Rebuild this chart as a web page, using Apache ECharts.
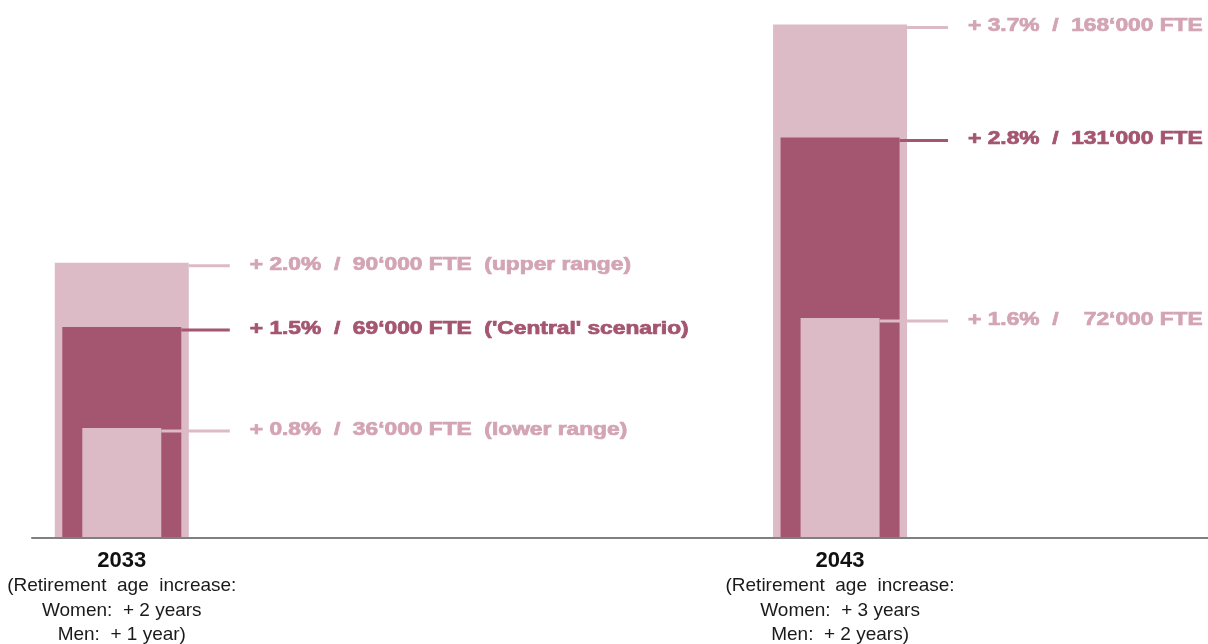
<!DOCTYPE html>
<html>
<head>
<meta charset="utf-8">
<title>Additional labour supply from higher retirement age</title>
<script src="https://cdn.jsdelivr.net/npm/echarts@6/dist/echarts.min.js"></script>
<style>
  html, body { margin: 0; padding: 0; background: #ffffff; }
  #chart { width: 1208px; height: 644px; }
</style>
</head>
<body>
<div id="chart"></div>
<script>
// Category slots along the baseline; the two horizons sit in slots 0 and 4.
const categories = ['2033', '', '', '', '2043', '', ''];
const years = ['2033', '2043'];
const yearSlots = [0, 4];

// Additional full-time equivalents per scenario
const upperFte = [90000, 168000];
const centralFte = [69000, 131000];
const lowerFte = [36000, 72000];

// Same effect as a share of the labour force (%)
const upperPct = ['2.0', '3.7'];
const centralPct = ['1.5', '2.8'];
const lowerPct = ['0.8', '1.6'];

// Scenario notes (only written next to the first horizon)
const upperNote = ['(upper range)', ''];
const centralNote = ["('Central' scenario)", ''];
const lowerNote = ['(lower range)', ''];

// Retirement age increase in years
const womenYears = [2, 3];
const menYears = [1, 2];

const LIGHT = '#dcbac6';
const LIGHT_TEXT = '#d3a4b4';
const DARK = '#a4556f';
const FONT = '"Liberation Sans", Arial, Helvetica, sans-serif';

const tiers = [
  { name: 'Upper range', values: upperFte, pct: upperPct, note: upperNote, barWidth: 134, fill: LIGHT, text: LIGHT_TEXT },
  { name: 'Central scenario', values: centralFte, pct: centralPct, note: centralNote, barWidth: 119, fill: DARK, text: DARK },
  { name: 'Lower range', values: lowerFte, pct: lowerPct, note: lowerNote, barWidth: 79, fill: LIGHT, text: LIGHT_TEXT }
];

function fmtFte(v) {
  const k = Math.floor(v / 1000);
  return k + '\u2018' + String(v % 1000).padStart(3, '0');
}

// Pad the number so the FTE figures of one horizon line up on the right
function labelText(t, y) {
  const tier = tiers[t];
  const maxDigits = Math.max(...tiers.map(tt => String(Math.floor(tt.values[y] / 1000)).length));
  const digits = String(Math.floor(tier.values[y] / 1000)).length;
  const pad = '  '.repeat(maxDigits - digits);
  let s = '+ ' + tier.pct[y] + '%  /  ' + pad + fmtFte(tier.values[y]) + ' FTE';
  if (tier.note[y]) s += '  ' + tier.note[y];
  return s;
}

function axisText(value) {
  const y = years.indexOf(value);
  if (y < 0) return '';
  const w = womenYears[y], m = menYears[y];
  return '{yr|' + value + '}\n' +
    '{d|(Retirement  age  increase:}\n' +
    '{d|Women:  + ' + w + ' year' + (w === 1 ? '' : 's') + '}\n' +
    '{d|Men:  + ' + m + ' year' + (m === 1 ? '' : 's') + ')}';
}

const barSeries = tiers.map((tier, t) => ({
  name: tier.name,
  type: 'bar',
  xAxisIndex: t,
  yAxisIndex: 0,
  barWidth: tier.barWidth,
  itemStyle: { color: tier.fill },
  silent: true,
  z: 2 + t,
  data: tier.values.map((v, y) => [yearSlots[y], v])
}));

const labelData = [];
tiers.forEach((tier, t) => {
  tier.values.forEach((v, y) => labelData.push([yearSlots[y], v, t, y]));
});

const LEADER_END = 108;
const LABEL_X = 128;

// Leader line from each bar top plus its wide value label
const labelSeries = {
  type: 'custom',
  xAxisIndex: 0,
  yAxisIndex: 0,
  silent: true,
  z: 10,
  data: labelData,
  renderItem: function (params, api) {
    const slot = api.value(0), v = api.value(1), t = api.value(2), y = api.value(3);
    const tier = tiers[t];
    const p = api.coord([slot, v]);
    const x0 = p[0] + tier.barWidth / 2;
    const ly = p[1] + 3;
    return {
      type: 'group',
      children: [
        {
          type: 'line',
          shape: { x1: x0, y1: ly, x2: p[0] + LEADER_END, y2: ly },
          style: { stroke: tier.fill, lineWidth: 3 }
        },
        {
          type: 'text',
          x: p[0] + LABEL_X,
          y: ly - 1,
          scaleX: 1.3,
          style: {
            text: labelText(t, y),
            fill: tier.text,
            stroke: tier.text,
            lineWidth: 0.7,
            font: 'bold 17.5px ' + FONT,
            align: 'left',
            verticalAlign: 'middle'
          }
        }
      ]
    };
  }
};

const xAxes = tiers.map((tier, t) => ({
  type: 'category',
  data: categories,
  position: 'bottom',
  show: t === 0,
  z: 20,
  axisLine: { show: true, lineStyle: { color: '#808080', width: 2 } },
  axisTick: { show: false },
  splitLine: { show: false },
  axisLabel: {
    interval: 0,
    margin: 10,
    formatter: axisText,
    rich: {
      yr: { fontFamily: FONT, fontSize: 22, fontWeight: 'bold', color: '#111111', lineHeight: 26, align: 'center' },
      d: { fontFamily: FONT, fontSize: 19, color: '#1a1a1a', lineHeight: 24.5, align: 'center' }
    }
  }
}));

const chart = echarts.init(document.getElementById('chart'), null, { renderer: 'canvas' });
chart.setOption({
  animation: false,
  backgroundColor: '#ffffff',
  grid: { left: 32, top: 3, width: 1257, height: 535, outerBoundsMode: 'none', containLabel: false },
  xAxis: xAxes,
  yAxis: { type: 'value', min: 0, max: 175000, show: false },
  series: barSeries.concat([labelSeries])
});
</script>
</body>
</html>
